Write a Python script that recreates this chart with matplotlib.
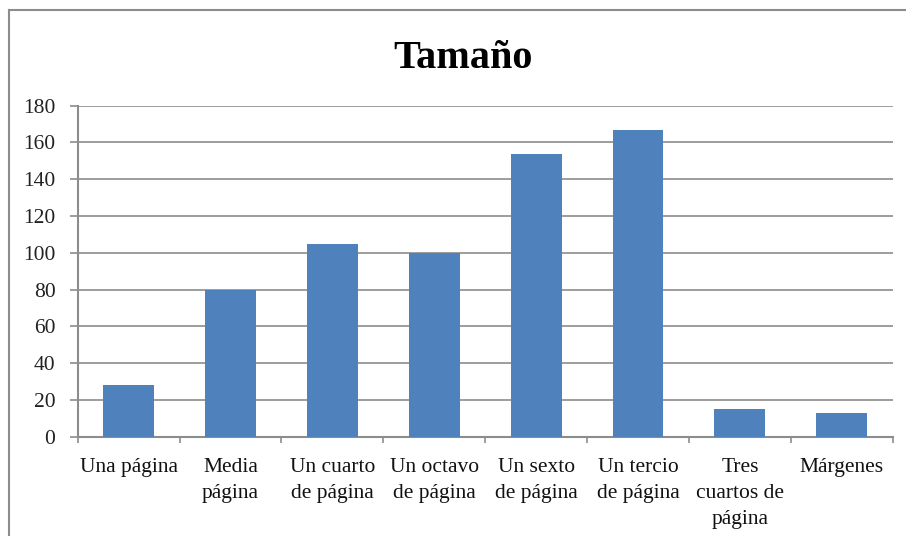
import matplotlib.pyplot as plt
from matplotlib.lines import Line2D

# datos
categorias = ['Una página', 'Media\npágina', 'Un cuarto\nde página', 'Un octavo\nde página',
              'Un sexto\nde página', 'Un tercio\nde página', 'Tres\ncuartos de\npágina', 'Márgenes']
valores = [28, 80, 105, 100, 154, 167, 15, 13]
y_ticks = list(range(0, 181, 20))

plt.rcParams['font.family'] = ['Liberation Serif', 'DejaVu Serif']

fig = plt.figure(figsize=(9.06, 5.36), dpi=100)
ax = fig.add_axes([77.7 / 906, 1 - 436.7 / 536, (892.7 - 77.7) / 906, (436.7 - 105.7) / 536])

x = list(range(len(categorias)))
ax.bar(x, valores, width=0.5, color='#4F81BD', zorder=3)

ax.set_xlim(-0.5, len(categorias) - 0.5)
ax.set_ylim(0, 180)
ax.set_yticks(y_ticks)
ax.yaxis.grid(True, color='#8c8c8c', linewidth=1.2, zorder=0)
ax.set_axisbelow(True)

ax.set_xticks(x)
ax.set_xticklabels(categorias, fontsize=15.5, color='#111111', linespacing=1.5, va='top')
ax.set_xticks([i - 0.5 for i in range(len(categorias) + 1)], minor=True)
ax.tick_params(axis='x', which='major', length=0, pad=15.5)
ax.tick_params(axis='x', which='minor', length=4, width=1.2, color='#8c8c8c', direction='out')
ax.tick_params(axis='y', length=6, width=1.2, color='#8c8c8c', labelsize=15.5, labelcolor='#222222', pad=10)

for s in ['top', 'right']:
    ax.spines[s].set_visible(False)
for s in ['left', 'bottom']:
    ax.spines[s].set_color('#8c8c8c')
    ax.spines[s].set_linewidth(1.5)

fig.text(0.511, 1 - 68 / 536, 'Tamaño', fontsize=29, fontweight='bold',
         ha='center', va='baseline', color='#000000')

# marco del gráfico (solo arriba e izquierda visibles)
bx = 9 / 906
by = 1 - 10 / 536
fig.add_artist(Line2D([bx, 1], [by, by], color='#8c8c8c', linewidth=1.5, transform=fig.transFigure))
fig.add_artist(Line2D([bx, bx], [0, by], color='#8c8c8c', linewidth=1.5, transform=fig.transFigure))

fig.savefig('out.png', dpi=100)
